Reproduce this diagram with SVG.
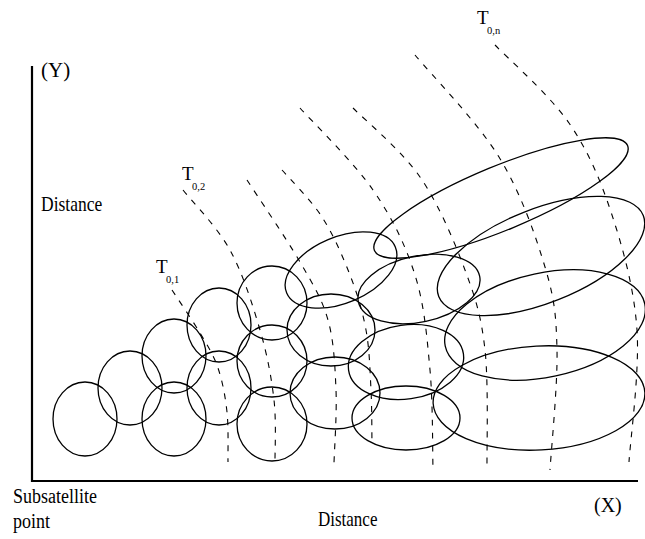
<svg xmlns="http://www.w3.org/2000/svg" width="645" height="539" viewBox="0 0 645 539">
<style>
.fp{fill:none;stroke:#000;stroke-width:1.3}
.iso{fill:none;stroke:#000;stroke-width:1.1;stroke-dasharray:6 7}
.ax{fill:none;stroke:#000;stroke-width:2.2}
text{font-family:"Liberation Serif","Times New Roman",serif;fill:#000}
</style>
<rect width="645" height="539" fill="#fff"/>
<g id="axes">
<path class="ax" d="M32,66 V481 H638"/>
</g>
<g id="labels">
<text x="41" y="77" font-size="21">(Y)</text>
<text transform="translate(41,211) scale(1,1.2)" font-size="17.5">Distance</text>
<text transform="translate(13,503) scale(1,1.2)" font-size="18">Subsatellite</text>
<text transform="translate(13,528) scale(1,1.2)" font-size="18">point</text>
<text transform="translate(318,526) scale(1,1.2)" font-size="17">Distance</text>
<text x="594" y="512" font-size="20">(X)</text>
<g id="t01"><text x="156" y="273" font-size="19">T</text><text x="166" y="283" font-size="10.5">0,1</text></g>
<g id="t02"><text x="182" y="180" font-size="19">T</text><text x="192" y="190" font-size="10.5">0,2</text></g>
<g id="t0n"><text x="477" y="24" font-size="19">T</text><text x="487" y="34" font-size="10.5">0,n</text></g>
</g>
<g id="isochrones">
<path class="iso" d="M172,290 C176.7,297.2 192.3,320 200,333 C207.7,346 213.5,354.8 218,368 C222.5,381.2 225.3,396.3 227,412 C228.7,427.7 227.8,453.7 228,462"/>
<path class="iso" d="M183,190 C190.8,200 217.2,226.7 230,250 C242.8,273.3 252.7,305 260,330 C267.3,355 271.5,377.8 274,400 C276.5,422.2 274.8,452.5 275,463"/>
<path class="iso" d="M247,180 C255.8,193.7 286.5,238.7 300,262 C313.5,285.3 322,298.7 328,320 C334,341.3 335,366.2 336,390 C337,413.8 334.3,450.8 334,463"/>
<path class="iso" d="M282,170 C288.7,177.8 310.7,199.5 322,217 C333.3,234.5 342.7,256.2 350,275 C357.3,293.8 362.5,310.8 366,330 C369.5,349.2 370,370.8 371,390 C372,409.2 371.8,435.8 372,445"/>
<path class="iso" d="M300,108 C312.2,121.7 353.8,162.2 373,190 C392.2,217.8 405.5,245 415,275 C424.5,305 427,337.5 430,370 C433,402.5 432.5,453.3 433,470"/>
<path class="iso" d="M353,108 C364.2,119.5 401.3,150 420,177 C438.7,204 454.2,241.2 465,270 C475.8,298.8 481.3,316.7 485,350 C488.7,383.3 486.7,450 487,470"/>
<path class="iso" d="M415,55 C429,72 477.3,121.7 499,157 C520.7,192.3 535.3,234.8 545,267 C554.7,299.2 556.2,316.2 557,350 C557.8,383.8 551.2,450 550,470"/>
<path class="iso" d="M495,45 C507.3,58 549.5,94.7 569,123 C588.5,151.3 600.7,180.5 612,215 C623.3,249.5 634.2,288.8 637,330 C639.8,371.2 630.3,440 629,462"/>
</g>
<g id="footprints">
<ellipse id="c1" class="fp" cx="85" cy="419" rx="32" ry="37"/>
<ellipse id="c2" class="fp" cx="130" cy="388" rx="32" ry="37"/>
<ellipse id="c3" class="fp" cx="174" cy="356" rx="32" ry="37"/>
<ellipse id="c4" class="fp" cx="174" cy="419" rx="32" ry="37"/>
<ellipse id="c5" class="fp" cx="219" cy="325" rx="32" ry="37"/>
<ellipse id="c6" class="fp" cx="219" cy="388" rx="32" ry="37"/>
<ellipse id="c7" class="fp" cx="272" cy="303" rx="35" ry="37"/>
<ellipse id="c8" class="fp" cx="272" cy="361" rx="35" ry="36"/>
<ellipse id="c9" class="fp" cx="272" cy="424" rx="35" ry="37"/>
<ellipse id="d1" class="fp" cx="0" cy="0" rx="59" ry="33" transform="translate(341,270) rotate(-23)"/>
<ellipse id="d2" class="fp" cx="331" cy="330" rx="44" ry="36"/>
<ellipse id="d3" class="fp" cx="335" cy="393" rx="45" ry="36"/>
<ellipse id="e1" class="fp" cx="0" cy="0" rx="62" ry="33" transform="translate(419,289) rotate(-12)"/>
<ellipse id="e2" class="fp" cx="0" cy="0" rx="58" ry="37" transform="translate(406,362) rotate(-8)"/>
<ellipse id="e3" class="fp" cx="406" cy="418" rx="54" ry="32"/>
<ellipse id="f1" class="fp" cx="0" cy="0" rx="137" ry="32" transform="translate(501,198) rotate(-22.5)"/>
<ellipse id="f2" class="fp" cx="0" cy="0" rx="110" ry="47" transform="translate(541,256) rotate(-21.6)"/>
<ellipse id="f3" class="fp" cx="0" cy="0" rx="102" ry="52" transform="translate(545,325) rotate(-12)"/>
<ellipse id="f4" class="fp" cx="0" cy="0" rx="106" ry="52" transform="translate(539,398) rotate(-3)"/>
</g>
</svg>
